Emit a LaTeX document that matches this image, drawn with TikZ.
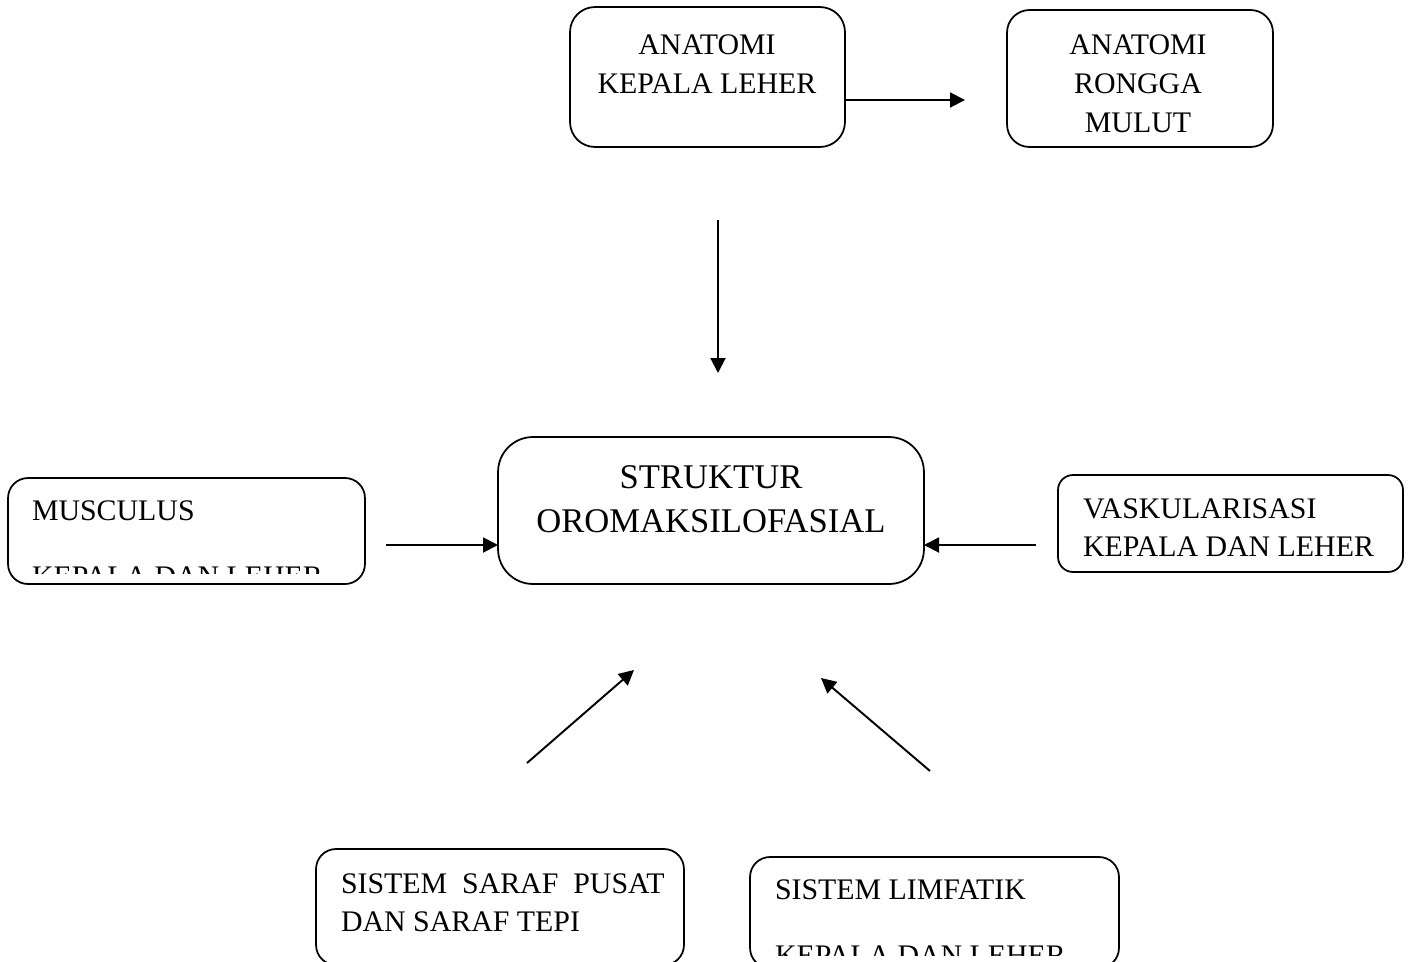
\documentclass[tikz,border=0pt]{standalone}
\usepackage{fontspec}
\setmainfont{Liberation Serif}
\usetikzlibrary{arrows.meta}
\begin{document}
\begin{tikzpicture}[x=0.02cm,y=-0.02cm,
  box/.style={draw,line width=1pt,inner sep=0pt,outer sep=0pt},
  txt/.style={inner sep=0pt,outer sep=0pt,font=\fontsize{17}{20}\selectfont},
  bigtxt/.style={inner sep=0pt,outer sep=0pt,font=\fontsize{19.7}{23}\selectfont},
  conn/.style={line width=1.1pt,-{Triangle[length=0.3cm,width=0.3cm]}}]
\useasboundingbox (0,0) rectangle (1411,961);
\clip (0,0) rectangle (1411,961);
% boxes
\node[box,rounded corners=0.5cm,minimum width=5.5cm,minimum height=2.8cm] (akl) at (707.5,77) {};
\node[box,rounded corners=0.45cm,minimum width=5.32cm,minimum height=2.74cm] (arm) at (1140,78.5) {};
\node[box,rounded corners=0.7cm,minimum width=8.52cm,minimum height=2.94cm] (str) at (711,510.5) {};
\node[box,rounded corners=0.4cm,minimum width=7.14cm,minimum height=2.12cm] (mus) at (186.5,531) {};
\node[box,rounded corners=0.3cm,minimum width=6.9cm,minimum height=1.94cm] (vas) at (1230.5,523.5) {};
\node[box,rounded corners=0.4cm,minimum width=7.36cm,minimum height=2.32cm] (ssp) at (500,907) {};
\node[box,rounded corners=0.4cm,minimum width=7.38cm,minimum height=2.22cm] (sl) at (934.5,912.5) {};
% texts
\node[txt,anchor=base] (akl1) at (707,54) {ANATOMI};
\node[txt,anchor=base] (akl2) at (707,93) {KEPALA LEHER};
\node[txt,anchor=base] (arm1) at (1138,54) {ANATOMI};
\node[txt,anchor=base] (arm2) at (1138,93) {RONGGA};
\node[txt,anchor=base] (arm3) at (1138,132) {MULUT};
\node[bigtxt,anchor=base] (str1) at (711,488) {STRUKTUR};
\node[bigtxt,anchor=base] (str2) at (711,532) {OROMAKSILOFASIAL};
\node[txt,anchor=base west] (mus1) at (32,520) {MUSCULUS};
\begin{scope}
\clip (8,478) rectangle (365,573);
\node[txt,anchor=base west] (mus2) at (32,586) {KEPALA DAN LEHER};
\end{scope}
\node[txt,anchor=base west] (vas1) at (1083,518) {VASKULARISASI};
\node[txt,anchor=base west] (vas2) at (1083,556) {KEPALA DAN LEHER};
\node[txt,anchor=base west] (ssp1) at (341,893) {SISTEM\ \ SARAF\ \ PUSAT};
\node[txt,anchor=base west] (ssp2) at (341,931) {DAN SARAF TEPI};
\node[txt,anchor=base west] (sl1) at (775,899) {SISTEM LIMFATIK};
\begin{scope}
\clip (750,857) rectangle (1119,955);
\node[txt,anchor=base west] (sl2) at (775,965) {KEPALA DAN LEHER};
\end{scope}
% connector end points
\coordinate (a1s) at (845,100);
\coordinate (a1e) at (965,100);
\coordinate (a2s) at (718,220);
\coordinate (a2e) at (718,373);
\coordinate (a3s) at (386,545);
\coordinate (a3e) at (498,545);
\coordinate (a4s) at (1036,545);
\coordinate (a4e) at (924,545);
\coordinate (a5s) at (527,763);
\coordinate (a5e) at (634,670);
\coordinate (a6s) at (930,771);
\coordinate (a6e) at (821,678);
\draw[conn] (a1s) -- (a1e);
\draw[conn] (a2s) -- (a2e);
\draw[conn] (a3s) -- (a3e);
\draw[conn] (a4s) -- (a4e);
\draw[conn] (a5s) -- (a5e);
\draw[conn] (a6s) -- (a6e);
\end{tikzpicture}
\end{document}
